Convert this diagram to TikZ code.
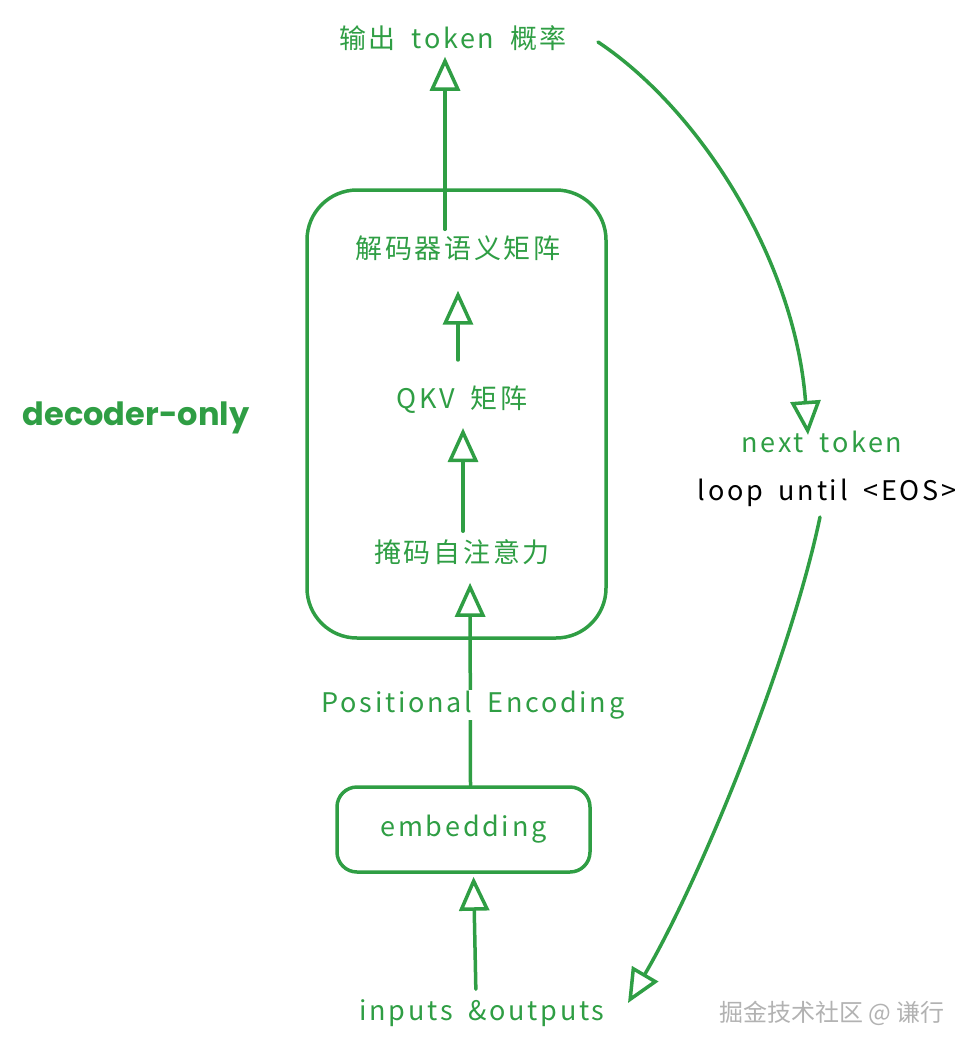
\documentclass[tikz,border=0pt]{standalone}
\usepackage{fontspec}
\setmainfont{Noto Sans CJK SC}[LetterSpace=10, WordSpace=1.8]
\newfontfamily\wmfont{Noto Sans CJK SC}
\newfontfamily\boldlat{Poppins}[UprightFont=* Bold]
\usetikzlibrary{arrows.meta}
\definecolor{exgreen}{HTML}{2F9E44}
\tikzset{
  lbl/.style={text=exgreen, font=\fontsize{27}{30}\selectfont, inner sep=2pt},
  conn/.style={draw=exgreen, line width=3.5pt, line cap=round, line join=round,
    -{Triangle[open, length=34pt, width=30pt, line width=3.5pt, fill=white]}},
  boxstyle/.style={draw=exgreen, line width=3.5pt}
}
\begin{document}
\begin{tikzpicture}[x=1pt, y=-1pt]
\useasboundingbox (0,0) rectangle (977,1054);
% box outlines
\draw[boxstyle, rounded corners=50pt] (307,190) rectangle (606,638);
\node[boxstyle, rounded corners=20pt, minimum width=253pt, minimum height=85pt, text=exgreen, font=\fontsize{27}{30}\selectfont] (emb) at (463.5,829.5) {embedding};
% labels
\node[lbl] (out) at (453,38) {输出 token 概率};
\node[lbl] (dec) at (458,248) {解码器语义矩阵};
\node[lbl] (qkv) at (462,400) {QKV 矩阵};
\node[lbl] (mask) at (462,552) {掩码自注意力};
\node[lbl] (inp) at (482,1013) {inputs \&outputs};
\node[lbl] (next) at (822,442) {next token};
\node[lbl, text=black] (loop) at (827,493) {loop until <EOS>};
\node[text=exgreen, font=\boldlat\fontsize{32}{36}\selectfont, inner sep=0pt] (title) at (136,418) {decoder-only};
\node[text=gray!60, font=\wmfont\fontsize{24}{28}\selectfont, inner sep=0pt] (wm) at (832,1013) {掘金技术社区 @ 谦行};
\coordinate (loopend) at (628,1003);
\coordinate (outstart) at (598,42);
% connectors
\draw[conn, shorten >=4pt] ([xshift=-13pt,yshift=4pt]dec.north) -- ([xshift=-13pt]dec.north |- out.south);
\draw[conn, shorten <=24pt, shorten >=28pt] (qkv.north -| dec.south) -- (dec.south);
\draw[conn, shorten <=6pt, shorten >=12pt] ([xshift=1pt]mask.north) -- ([xshift=1pt]qkv.south);
\draw[conn, shorten >=16pt] ([xshift=7pt]emb.north) -- ([xshift=8pt]mask.south);
\node[lbl, fill=white, inner sep=1pt] (pe) at (473,705) {Positional Encoding};
\draw[conn, shorten <=8pt, shorten >=3pt] ([xshift=-6pt]inp.north) -- ([xshift=10pt]emb.south);
\draw[conn] (outstart) .. controls (700,110) and (795,260) .. ([xshift=-14pt,yshift=-6pt]next.north);
\draw[conn] ([xshift=-7pt,yshift=-8pt]loop.south) .. controls (790,660) and (700,880) .. (loopend);
\end{tikzpicture}
\end{document}
